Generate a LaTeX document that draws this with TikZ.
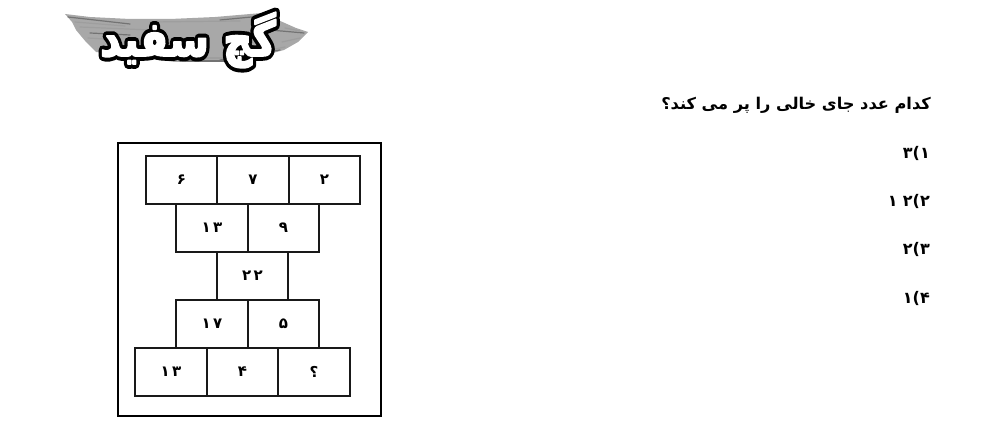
\documentclass[tikz,border=0pt]{standalone}
\usepackage{fontspec}
\TeXXeTstate=1
\newfontfamily\arabicbold[Script=Arabic]{DejaVu Sans Bold}
\newcommand{\outlinetext}[1]{\special{pdf:code q 1 Tr 9 w 1 j 0 0 0 RG}#1\special{pdf:code Q}}
\newcommand{\fattext}[1]{\special{pdf:code q 2 Tr 1.6 w 1 j 1 1 1 RG 1 1 1 rg}#1\special{pdf:code Q}}
\tikzset{
  cellbox/.style={draw=black!90,line width=1.9pt,minimum width=71.5pt,minimum height=48pt,inner sep=0pt,
    font=\arabicbold\fontsize{15}{17}\selectfont},
  framebox/.style={draw=black,line width=2pt},
  choice/.style={anchor=east,inner sep=0pt,font=\arabicbold\fontsize{16}{18}\selectfont},
  question/.style={anchor=east,inner sep=0pt,font=\arabicbold\fontsize{16.2}{20}\selectfont},
  streak/.style={line cap=round},
  logotext/.style={inner sep=0pt,xscale=0.88,yscale=1.05,font=\arabicbold\fontsize{46}{50}\selectfont}
}
\begin{document}
\begin{tikzpicture}[x=1pt,y=-1pt]
\useasboundingbox (0,0) rectangle (992,427);
% logo brush
\fill[gray!68] (65,14) -- (90,17) -- (130,19) -- (170,19) -- (215,17) -- (262,13) -- (278,20) -- (296,28) -- (308,32) -- (298,42) -- (284,50) -- (262,56) -- (225,62) -- (175,62) -- (130,56) -- (96,52) -- (86,42) -- (76,30) -- (72,22) -- cycle;
\foreach \xa/\ya/\xb/\yb/\g in {68/17/130/24/55,80/27/150/30/38,88/38/120/40/38,100/48/150/54/55,170/58/260/58/38,220/60/280/50/55,270/30/304/33/55,282/42/300/38/38,220/20/262/16/55,150/22/240/21/38,75/22/125/26/38,90/33/130/35/55,125/53/170/59/38,240/56/285/47/38,285/28/300/31/38,180/61/240/61/55}{
  \draw[streak,line width=1.2pt,black!\g] (\xa,\ya) -- (\xb,\yb);
}
% logo lettering
\node[logotext,text=black] (logoback) at (188,40) {\outlinetext{\beginR گچ سفید\endR}};
\node[logotext,text=white] (logofront) at (188,40) {\fattext{\beginR گچ سفید\endR}};
% frame
\node[framebox,minimum width=263pt,minimum height=273pt,inner sep=0pt] (outer) at (249.5,279.5) {};
% cells
\node[cellbox] (a1) at (181.5,180) {۶};
\node[cellbox] (a2) at (253,180) {۷};
\node[cellbox] (a3) at (324.5,180) {۲};
\node[cellbox] (b1) at (212,228) {۱\,۳};
\node[cellbox] (b2) at (283.5,228) {۹};
\node[cellbox] (c1) at (252.5,276) {۲\,۲};
\node[cellbox] (d1) at (212,324) {۱\,۷};
\node[cellbox] (d2) at (283.5,324) {۵};
\node[cellbox] (e1) at (171,372) {۱\,۳};
\node[cellbox] (e2) at (242.5,372) {۴};
\node[cellbox] (e3) at (314,372) {؟};
% text
\node[question] (q) at (931,105) {\beginR کدام عدد جای خالی را پر می کند؟\endR};
\node[choice] (o1) at (930,153) {۱)۳};
\node[choice] (o2) at (930,201) {۱\,\,۲)۲};
\node[choice] (o3) at (930,249) {۳)۲};
\node[choice] (o4) at (930,298) {۴)۱};
\end{tikzpicture}
\end{document}
